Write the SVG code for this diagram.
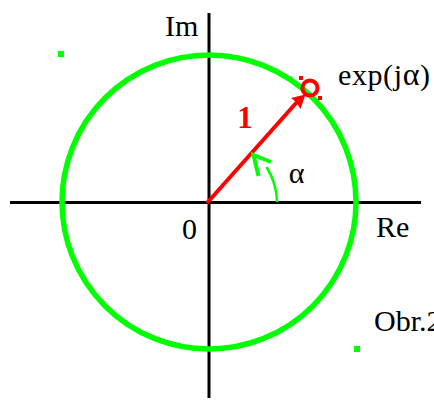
<svg xmlns="http://www.w3.org/2000/svg" width="434" height="401" viewBox="0 0 434 401">
<style>
.lbl{font-family:"Liberation Serif","Times New Roman",serif;font-size:30px;fill:#000}
.axis{stroke:#000;stroke-width:3;fill:none}
.green{stroke:#00ff00;fill:none}
.red{stroke:#ff0000;fill:none}
</style>
<rect width="434" height="401" fill="#fff"/>
<g id="axes">
<line class="axis" x1="10" y1="202.5" x2="421" y2="202.5"/>
<line class="axis" x1="209" y1="13" x2="209" y2="398"/>
</g>
<g id="unit-circle">
<circle class="green" cx="209" cy="202" r="147" stroke-width="5.5"/>
<rect x="58" y="51" width="6" height="6" fill="#00ff00"/>
<rect x="354" y="346" width="6" height="6" fill="#00ff00"/>
</g>
<g id="connectors">
<g id="vector">
<line class="red" x1="207" y1="203" x2="297" y2="102" stroke-width="4"/>
<polygon points="305.5,94.5 291,98 296,102 300.5,109" fill="#ff0000"/>
</g>
<g id="angle-arc">
<path class="green" d="M277 202 A68 68 0 0 0 266.5 167" stroke-width="2.5"/>
<polyline class="green" points="258.5,176 253.5,155 271,162" stroke-width="4"/>
</g>
</g>
<g id="point">
<circle class="red" cx="310" cy="88" r="7.5" stroke-width="4"/>
<rect x="299" y="76" width="4" height="4" fill="#ff0000"/>
<rect x="318" y="96" width="4" height="4" fill="#ff0000"/>
</g>
<g id="labels">
<text class="lbl" x="165" y="36">Im</text>
<text class="lbl" x="376" y="237">Re</text>
<text class="lbl" x="189.5" y="239" text-anchor="middle">0</text>
<text class="lbl" x="338" y="85" textLength="92" lengthAdjust="spacing">exp(j<tspan font-size="32">α</tspan>)</text>
<text class="lbl" x="296.5" y="183" text-anchor="middle" font-size="32">α</text>
<text class="lbl" x="245" y="128" text-anchor="middle" font-weight="bold" style="fill:#ff0000;font-size:31px">1</text>
<text class="lbl" x="374" y="331">Obr.2</text>
</g>
</svg>
